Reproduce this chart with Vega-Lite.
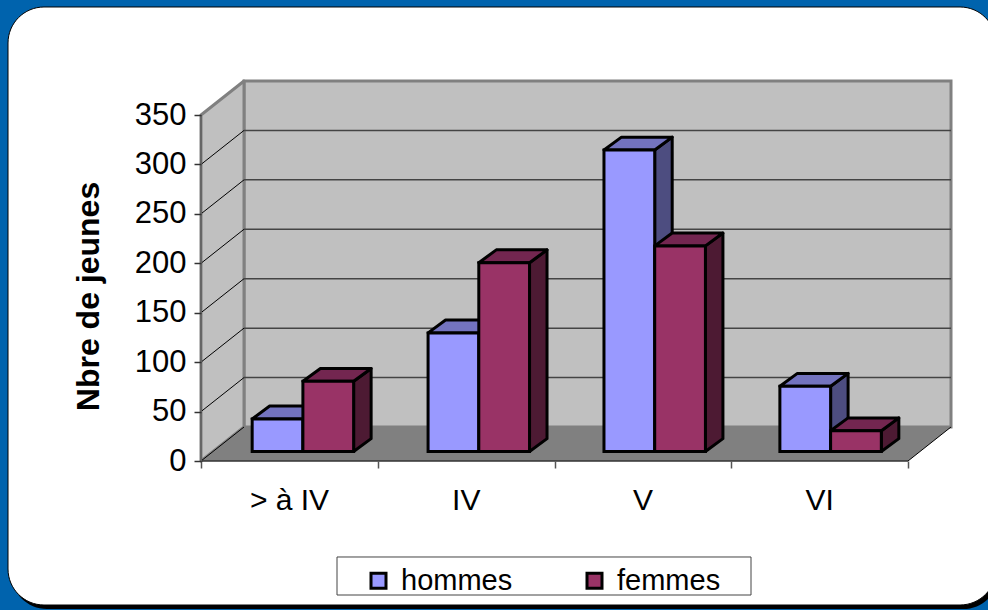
{
"$schema":"https://vega.github.io/schema/vega-lite/v6.json",
"width":988,"height":610,"padding":0,"autosize":{"type":"none"},
"background":"#0063ad",
"view":{"stroke":null},
"config":{"font":"Liberation Sans"},
"datasets":{
"jeunes":[
{"niveau":"> à IV","sexe":"hommes","jeunes":33},
{"niveau":"> à IV","sexe":"femmes","jeunes":71},
{"niveau":"IV","sexe":"hommes","jeunes":120},
{"niveau":"IV","sexe":"femmes","jeunes":191},
{"niveau":"V","sexe":"hommes","jeunes":305},
{"niveau":"V","sexe":"femmes","jeunes":208},
{"niveau":"VI","sexe":"hommes","jeunes":66},
{"niveau":"VI","sexe":"femmes","jeunes":21}
],
"graduations":[{"g":0},{"g":50},{"g":100},{"g":150},{"g":200},{"g":250},{"g":300},{"g":350}],
"coins":[{"t":0},{"t":1}],
"un":[{}]
},
"layer":[
{"data":{"name":"un"},"mark":{"type":"rect","fill":"#000000","cornerRadius":36},
"encoding":{
"x":{"datum":-1.0749,"type":"quantitative","scale":{"domain":[-1.1372,4.4526],"nice":false,"zero":false}},
"x2":{"datum":4.515},
"y":{"datum":456.2,"type":"quantitative","scale":{"domain":[-150.72,466.33],"nice":false,"zero":false}},
"y2":{"datum":-149.7}}},
{"data":{"name":"un"},"mark":{"type":"rect","fill":"#ffffff","stroke":"#000000","strokeWidth":1,"cornerRadius":36},
"encoding":{
"x":{"datum":-1.0919,"type":"quantitative","scale":{"domain":[-1.1372,4.4526],"nice":false,"zero":false}},
"x2":{"datum":4.498},
"y":{"datum":459.25,"type":"quantitative","scale":{"domain":[-150.72,466.33],"nice":false,"zero":false}},
"y2":{"datum":-145.67}}},
{"data":{"name":"un"},"mark":{"type":"rect","fill":"#ffffff","stroke":"#444444","strokeWidth":1},
"encoding":{
"x":{"datum":0.7695,"type":"quantitative","scale":{"domain":[-1.1372,4.4526],"nice":false,"zero":false}},
"x2":{"datum":3.1118},
"y":{"datum":-97.1,"type":"quantitative","scale":{"domain":[-150.72,466.33],"nice":false,"zero":false}},
"y2":{"datum":-135.55}}},
{"data":{"name":"un"},"mark":{"type":"rect","fill":"#c0c0c0","stroke":"#808080","strokeWidth":3},
"encoding":{
"x":{"datum":0.2433,"type":"quantitative","scale":{"domain":[-1.1372,4.4526],"nice":false,"zero":false}},
"x2":{"datum":4.2433},
"y":{"datum":34.4,"type":"quantitative","scale":{"domain":[-150.72,466.33],"nice":false,"zero":false}},
"y2":{"datum":384.4}}},
{"data":{"name":"coins"},
"transform":[{"calculate":"datum.t*0.2433","as":"px"},{"calculate":"datum.t*34.4","as":"bas"},{"calculate":"350+datum.t*34.4","as":"haut"}],
"mark":{"type":"area","orient":"vertical","fill":"#c0c0c0","stroke":"#808080","strokeWidth":3,"strokeJoin":"round"},
"encoding":{
"x":{"field":"px","type":"quantitative","scale":{"domain":[-1.1372,4.4526],"nice":false,"zero":false}},
"y":{"field":"haut","type":"quantitative","scale":{"domain":[-150.72,466.33],"nice":false,"zero":false}},
"y2":{"field":"bas"}}},
{"data":{"name":"graduations"},
"transform":[{"filter":"datum.g>0 && datum.g<350"},{"calculate":"datum.g+34.4","as":"fond"}],
"mark":{"type":"rule","stroke":"#444444","strokeWidth":1.5},
"encoding":{
"x":{"datum":0.2433,"type":"quantitative","scale":{"domain":[-1.1372,4.4526],"nice":false,"zero":false}},
"x2":{"datum":4.2433},
"y":{"field":"fond","type":"quantitative","scale":{"domain":[-150.72,466.33],"nice":false,"zero":false}}}},
{"data":{"name":"graduations"},
"transform":[{"filter":"datum.g>0 && datum.g<350"},{"calculate":"datum.g+34.4","as":"fond"}],
"mark":{"type":"rule","stroke":"#000000","strokeWidth":1},
"encoding":{
"x":{"datum":0,"type":"quantitative","scale":{"domain":[-1.1372,4.4526],"nice":false,"zero":false}},
"x2":{"datum":0.2433},
"y":{"field":"g","type":"quantitative","scale":{"domain":[-150.72,466.33],"nice":false,"zero":false}},
"y2":{"field":"fond"}}},
{"data":{"name":"coins"},
"transform":[{"calculate":"datum.t*0.2433","as":"g1"},{"calculate":"4+datum.t*0.2433","as":"g2"},{"calculate":"datum.t*34.4","as":"h"}],
"mark":{"type":"area","orient":"horizontal","fill":"#808080"},
"encoding":{
"y":{"field":"h","type":"quantitative","scale":{"domain":[-150.72,466.33],"nice":false,"zero":false}},
"x":{"field":"g1","type":"quantitative","scale":{"domain":[-1.1372,4.4526],"nice":false,"zero":false}},
"x2":{"field":"g2"}}},
{"data":{"name":"un"},"mark":{"type":"rule","stroke":"#000000","strokeWidth":1},
"encoding":{
"x":{"datum":0,"type":"quantitative","scale":{"domain":[-1.1372,4.4526],"nice":false,"zero":false}},
"x2":{"datum":0.2433},
"y":{"datum":0,"type":"quantitative","scale":{"domain":[-150.72,466.33],"nice":false,"zero":false}},
"y2":{"datum":34.4}}},
{"data":{"name":"un"},"mark":{"type":"rule","stroke":"#000000","strokeWidth":1},
"encoding":{
"x":{"datum":4,"type":"quantitative","scale":{"domain":[-1.1372,4.4526],"nice":false,"zero":false}},
"x2":{"datum":4.2433},
"y":{"datum":0,"type":"quantitative","scale":{"domain":[-150.72,466.33],"nice":false,"zero":false}},
"y2":{"datum":34.4}}},
{"data":{"name":"un"},"mark":{"type":"rule","stroke":"#333333","strokeWidth":1.5},
"encoding":{
"x":{"datum":0,"type":"quantitative","scale":{"domain":[-1.1372,4.4526],"nice":false,"zero":false}},
"x2":{"datum":4},
"y":{"datum":0,"type":"quantitative","scale":{"domain":[-150.72,466.33],"nice":false,"zero":false}}}},
{"data":{"name":"un"},"mark":{"type":"rule","stroke":"#666666","strokeWidth":2},
"encoding":{
"x":{"datum":0,"type":"quantitative","scale":{"domain":[-1.1372,4.4526],"nice":false,"zero":false}},
"y":{"datum":0,"type":"quantitative","scale":{"domain":[-150.72,466.33],"nice":false,"zero":false}},
"y2":{"datum":350}}},
{"data":{"name":"jeunes"},
"transform":[
{"calculate":"indexof(['> à IV','IV','V','VI'],datum.niveau)","as":"rang"},
{"calculate":"0.2895+0.9952*datum.rang+(datum.sexe==='femmes'?0.287:0)+0.287","as":"droite"},
{"calculate":"[0,1]","as":"t"},{"flatten":["t"]},
{"calculate":"datum.droite+datum.t*0.099","as":"px"},
{"calculate":"datum.jeunes+9.6+datum.t*13","as":"haut"},
{"calculate":"9.6+datum.t*13","as":"bas"}],
"mark":{"type":"area","orient":"vertical","stroke":"#000000","strokeWidth":3,"strokeJoin":"round"},
"encoding":{
"detail":[{"field":"niveau"},{"field":"sexe"}],
"fill":{"condition":{"test":"datum.sexe==='hommes'","value":"#4d4d80"},"value":"#4d1a33"},
"x":{"field":"px","type":"quantitative","scale":{"domain":[-1.1372,4.4526],"nice":false,"zero":false}},
"y":{"field":"haut","type":"quantitative","scale":{"domain":[-150.72,466.33],"nice":false,"zero":false}},
"y2":{"field":"bas"}}},
{"data":{"name":"jeunes"},
"transform":[
{"calculate":"indexof(['> à IV','IV','V','VI'],datum.niveau)","as":"rang"},
{"calculate":"0.2895+0.9952*datum.rang+(datum.sexe==='femmes'?0.287:0)","as":"gauche"},
{"calculate":"[0,1]","as":"t"},{"flatten":["t"]},
{"calculate":"datum.gauche+datum.t*0.099","as":"g1"},
{"calculate":"datum.gauche+0.287+datum.t*0.099","as":"g2"},
{"calculate":"datum.jeunes+9.6+datum.t*13","as":"h"}],
"mark":{"type":"area","orient":"horizontal","stroke":"#000000","strokeWidth":3,"strokeJoin":"round"},
"encoding":{
"detail":[{"field":"niveau"},{"field":"sexe"}],
"fill":{"condition":{"test":"datum.sexe==='hommes'","value":"#7373bf"},"value":"#732650"},
"y":{"field":"h","type":"quantitative","scale":{"domain":[-150.72,466.33],"nice":false,"zero":false}},
"x":{"field":"g1","type":"quantitative","scale":{"domain":[-1.1372,4.4526],"nice":false,"zero":false}},
"x2":{"field":"g2"}}},
{"data":{"name":"jeunes"},
"transform":[
{"calculate":"indexof(['> à IV','IV','V','VI'],datum.niveau)","as":"rang"},
{"calculate":"0.2895+0.9952*datum.rang+(datum.sexe==='femmes'?0.287:0)","as":"gauche"},
{"calculate":"datum.gauche+0.287","as":"droite"},
{"calculate":"datum.jeunes+9.6","as":"haut"},
{"calculate":"9.6","as":"bas"}],
"mark":{"type":"rect","stroke":"#000000","strokeWidth":3},
"encoding":{
"fill":{"field":"sexe","type":"nominal","scale":{"domain":["hommes","femmes"],"range":["#9999ff","#993366"]},
"legend":{"title":null,"orient":"none","legendX":364,"legendY":566,"direction":"horizontal","columns":2,"symbolType":"square","symbolSize":225,"symbolStrokeColor":"#000000","symbolStrokeWidth":3,"labelFontSize":29,"labelColor":"#000000","labelFont":"Liberation Sans","labelOffset":8,"columnPadding":67,"padding":0,"symbolOpacity":1}},
"x":{"field":"gauche","type":"quantitative","scale":{"domain":[-1.1372,4.4526],"nice":false,"zero":false},
"axis":{"title":null,"orient":"bottom","offset":-149,"values":[0,1,2,3,4],"domain":false,"grid":false,"tickColor":"#555555","tickSize":7,"tickWidth":1.5,"labelExpr":"['> à IV','IV','V','VI',''][datum.value]","labelOffset":88,"labelFontSize":30,"labelColor":"#000000","labelPadding":17,"labelFont":"Liberation Sans","labelOverlap":false,"labelBound":false,"labelFlush":false,"zindex":1}},
"x2":{"field":"droite"},
"y":{"field":"haut","type":"quantitative","scale":{"domain":[-150.72,466.33],"nice":false,"zero":false},
"axis":{"title":"Nbre de jeunes","orient":"left","offset":-201,"values":[0,50,100,150,200,250,300,350],"domain":false,"grid":false,"tickColor":"#333333","tickSize":7,"tickWidth":1.5,"labelFontSize":31,"labelColor":"#000000","labelPadding":8,"labelFont":"Liberation Sans","titleFontSize":32,"titleFontWeight":"bold","titleColor":"#000000","titleFont":"Liberation Sans","titleY":296,"titleX":-96,"labelOverlap":false,"zindex":1}},
"y2":{"field":"bas"}}}
]
}
